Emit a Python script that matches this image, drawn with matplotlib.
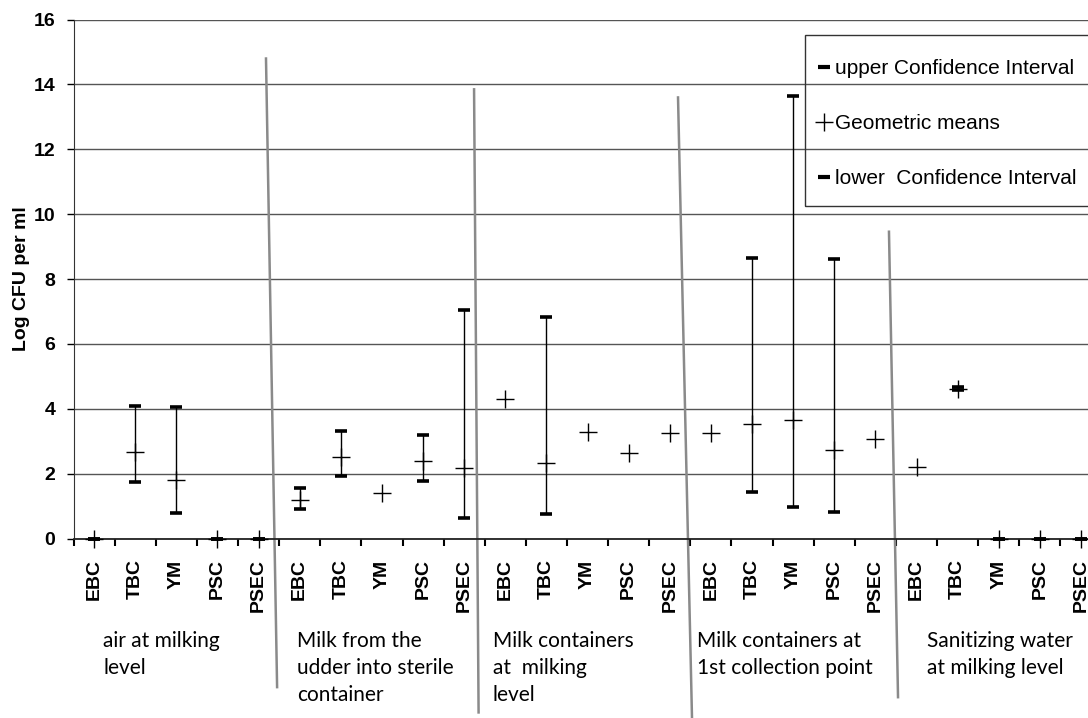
import numpy as np
import matplotlib
matplotlib.use("Agg")
import matplotlib.pyplot as plt
from matplotlib.lines import Line2D
from matplotlib.patches import Rectangle

plt.rcParams['font.family'] = ['Liberation Sans', 'DejaVu Sans']

# data (log CFU per ml), nan = no confidence interval drawn
organisms = ["EBC", "TBC", "YM", "PSC", "PSEC"]
groups = ["air at milking\nlevel",
          "Milk from the\nudder into sterile\ncontainer",
          "Milk containers\nat  milking\nlevel",
          "Milk containers at\n1st collection point",
          "Sanitizing water\nat milking level"]
nan = np.nan
means = [0, 2.68, 1.82, 0, 0,
         1.19, 2.53, 1.40, 2.38, 2.18,
         4.31, 2.34, 3.30, 2.65, 3.27,
         3.27, 3.54, 3.67, 2.72, 3.06,
         2.22, 4.62, 0, 0, 0]
upper = [0, 4.09, 4.06, 0, 0,
         1.56, 3.31, nan, 3.20, 7.05,
         nan, 6.83, nan, nan, nan,
         nan, 8.66, 13.63, 8.63, nan,
         nan, 4.66, 0, 0, 0]
lower = [0, 1.75, 0.79, 0, 0,
         0.92, 1.92, nan, 1.79, 0.64,
         nan, 0.77, nan, nan, nan,
         nan, 1.44, 0.96, 0.83, nan,
         nan, 4.58, 0, 0, 0]
# hand-drawn separators between groups: (x_top, y_top, x_bottom, y_bottom)
separators = [(4.18, 14.80, 4.45, -4.58),
              (9.24, 13.85, 9.35, -5.36),
              (14.20, 13.60, 14.54, -5.54),
              (19.33, 9.46, 19.55, -4.89)]
group_text_x = [0.22, 4.94, 9.70, 14.66, 20.26]

labels = organisms * len(groups)
x = np.arange(len(labels))
means = np.array(means, dtype=float)
upper = np.array(upper, dtype=float)
lower = np.array(lower, dtype=float)

fig = plt.figure(figsize=(10.88, 7.18), dpi=100)
ax = fig.add_axes([0.0676, 0.2499, 1 - 0.0676, 0.9727 - 0.2499])

ax.set_yticks(np.arange(0, 17, 2))
ax.set_xticks(x)
ax.set_xticklabels(labels, rotation=90, fontsize=14, fontweight='bold')
ax.set_xticks(np.arange(-0.5, 24.6, 1), minor=True)
ax.set_ylim(0, 16)
ax.set_xlim(-0.5, 24.17)

ax.yaxis.grid(True, color='#555555', linewidth=1)
ax.set_axisbelow(True)
for s in ['top', 'right']:
    ax.spines[s].set_visible(False)
ax.spines['left'].set_color('#333333')
ax.spines['bottom'].set_color('#222222')
ax.spines['bottom'].set_linewidth(1.3)

ax.tick_params(axis='y', direction='out', length=5, width=1, pad=8,
               labelsize=14)
for t in ax.get_yticklabels():
    t.set_fontweight('bold')
ax.set_ylabel("Log CFU per ml", fontsize=14, fontweight='bold', labelpad=3)

ax.tick_params(axis='x', which='major', length=0, pad=15)
ax.tick_params(axis='x', which='minor', direction='out', length=5, width=1.5)

# confidence intervals
ci = ~np.isnan(upper)
ax.errorbar(x[ci], means[ci],
            yerr=[means[ci] - lower[ci], upper[ci] - means[ci]],
            fmt='none', ecolor='black', elinewidth=1, capsize=4,
            capthick=2.6, clip_on=False, zorder=3)
# geometric means
ax.plot(x, means, linestyle='none', marker='+', markersize=13,
        markeredgewidth=1, color='black', clip_on=False, zorder=4)

# group separators
for xt, yt, xb, yb in separators:
    ax.plot([xt, xb], [yt, yb], color='#8a8a8a', linewidth=1.8,
            clip_on=False, zorder=2)

# group captions
trans = matplotlib.transforms.blended_transform_factory(ax.transData,
                                                         fig.transFigure)
for gx, g in zip(group_text_x, groups):
    ax.text(gx, 1 - 631 / 718, g, transform=trans, ha='left', va='top',
            fontsize=15, family='Lato', linespacing=1.45)

# legend (frame drawn separately so it runs off the right edge)
ax.add_patch(Rectangle((0.721, 0.6416), 0.3, 0.3279, transform=ax.transAxes,
                       facecolor='none', edgecolor='#333333', linewidth=1,
                       clip_on=False, zorder=5))
h_ci = Line2D([], [], linestyle='none', marker='_', markersize=9,
              markeredgewidth=3, color='black')
h_mean = Line2D([], [], linestyle='none', marker='+', markersize=13,
                markeredgewidth=1, color='black')
leg = ax.legend([h_ci, h_mean, h_ci],
                ["upper Confidence Interval", "Geometric means",
                 "lower  Confidence Interval"],
                loc='upper left', bbox_to_anchor=(0.7325, 0.924),
                borderaxespad=0, borderpad=0, fontsize=15, frameon=False,
                handlelength=0.7, handletextpad=0.2, labelspacing=1.73)

fig.savefig("out.png", dpi=100)
